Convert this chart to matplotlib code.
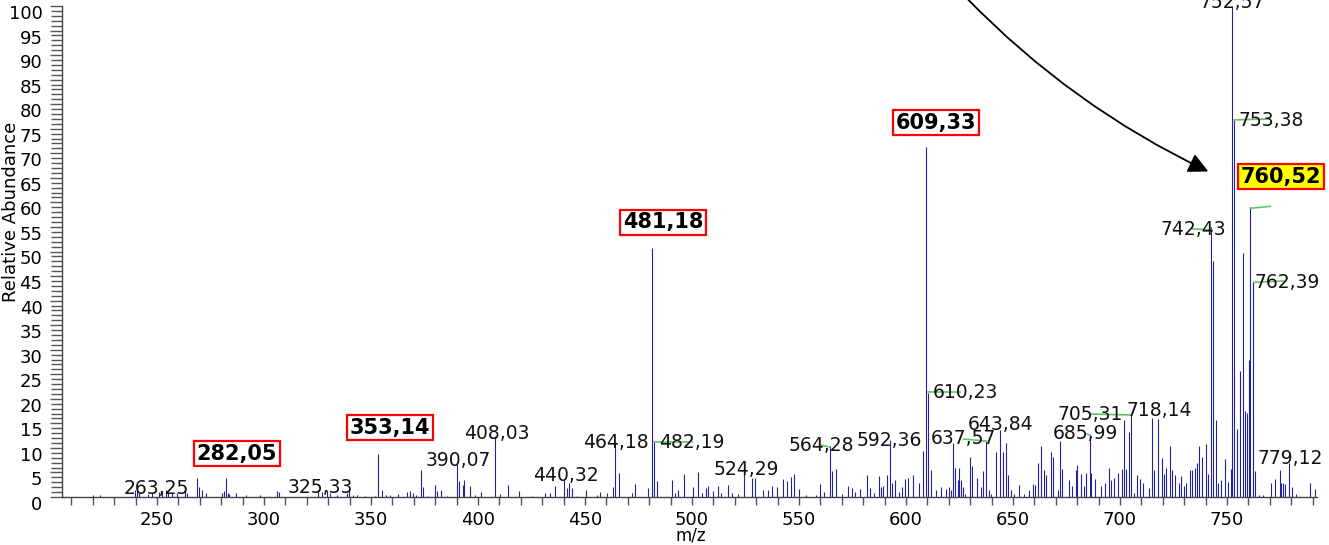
import matplotlib
matplotlib.use('Agg')
import matplotlib.pyplot as plt
from matplotlib.ticker import MultipleLocator
from matplotlib import transforms

# peak list (m/z, relative abundance)
mz = [220.1, 223.4, 239.7, 240.7, 241.6, 245.8, 247.7, 250.8, 252.3, 254.2,
      255.1, 257.0, 259.3, 263.25, 264.2, 268.5, 269.8, 271.0, 272.9, 280.4,
      281.1, 282.05, 283.0, 283.6, 286.8, 291.4, 298.1, 306.1, 306.8, 325.33,
      327.0, 329.4, 330.8, 333.9, 338.6, 339.6, 341.6, 343.5, 347.2, 351.9,
      353.14, 355.0, 357.0, 358.9, 362.8, 366.7, 368.2, 369.6, 371.0, 373.4,
      374.5, 376.0, 379.9, 380.7, 382.6, 385.4, 390.07, 391.3, 393.1, 393.6,
      396.3, 398.6, 401.4, 408.03, 410.3, 413.9, 419.3, 425.1, 431.3, 433.6,
      436.0, 440.32, 441.4, 442.5, 443.8, 446.4, 450.3, 455.5, 457.0, 460.1,
      463.3, 464.18, 466.0, 471.8, 473.4, 479.6, 481.18, 482.19, 483.5, 490.5,
      492.1, 493.6, 496.3, 500.3, 502.7, 504.5, 506.4, 507.6, 510.0, 512.3,
      513.5, 517.0, 518.8, 521.6, 524.29, 527.9, 529.4, 533.3, 535.7, 537.2,
      539.9, 542.7, 544.5, 546.3, 547.8, 550.1, 553.5, 558.2, 560.0, 561.5,
      564.28, 565.4, 567.4, 570.0, 572.9, 574.8, 576.3, 578.6, 581.8, 583.3,
      584.9, 587.5, 588.5, 589.2, 591.2, 592.36, 593.5, 594.7, 596.6, 598.0,
      599.7, 600.9, 603.1, 606.2, 607.9, 609.33, 610.23, 611.5, 614.0, 616.3,
      618.6, 620.2, 621.0, 621.8, 622.9, 624.1, 624.9, 625.7, 626.5, 627.7,
      630.0, 630.8, 633.1, 635.0, 636.2, 637.57, 638.6, 639.9, 642.3, 643.84,
      645.4, 646.7, 647.8, 649.0, 650.6, 652.9, 655.3, 657.3, 659.6, 660.4,
      661.9, 663.0, 664.5, 665.3, 667.7, 668.5, 670.9, 672.0, 673.1, 676.2,
      677.8, 679.3, 680.1, 681.6, 683.2, 684.0, 685.99, 686.7, 688.2, 691.0,
      692.9, 694.9, 695.7, 697.4, 699.3, 700.9, 702.1, 702.8, 704.1, 705.31,
      706.4, 708.0, 709.6, 710.8, 713.4, 715.2, 716.0, 717.9, 719.7, 720.5,
      721.7, 723.2, 724.3, 725.9, 727.6, 728.7, 729.8, 731.0, 732.6, 733.8,
      734.9, 736.0, 737.0, 738.5, 740.4, 741.2, 742.43, 743.4, 744.8, 745.9,
      747.4, 748.9, 750.5, 752.0, 752.57, 753.38, 754.6, 755.9, 757.5, 758.3,
      759.4, 760.1, 760.9, 762.39, 763.3, 764.8, 766.9, 770.4, 772.3, 774.6,
      775.5, 776.2, 777.0, 779.12, 780.6, 782.2, 788.8, 791.1]
abundance = [0.5, 0.5, 1.5, 1.2, 0.8, 0.6, 0.8, 1.1, 1.3, 1.5,
             1.1, 0.9, 0.8, 1.8, 0.8, 3.8, 2.1, 1.5, 0.8, 0.9,
             1.3, 3.8, 0.8, 0.6, 0.9, 0.5, 0.4, 1.3, 1.0, 1.5,
             1.0, 1.5, 0.8, 0.5, 0.8, 1.5, 0.5, 0.5, 0.3, 0.3,
             8.8, 1.5, 0.5, 0.5, 0.7, 1.0, 1.2, 0.8, 0.5, 5.4,
             2.0, 0.3, 2.5, 1.2, 1.4, 0.3, 6.8, 3.3, 2.5, 3.5,
             2.3, 0.5, 1.0, 12.4, 0.6, 2.5, 1.2, 0.3, 0.8, 0.9,
             2.2, 3.5, 1.8, 2.9, 1.8, 0.2, 1.5, 0.5, 1.0, 0.8,
             2.0, 11.0, 4.9, 0.8, 2.6, 1.8, 50.7, 11.1, 3.2, 3.5,
             0.8, 1.5, 4.7, 2.0, 5.0, 0.8, 1.8, 2.3, 1.2, 2.2,
             0.9, 2.5, 0.9, 0.7, 5.4, 3.9, 3.9, 1.5, 1.5, 2.3,
             2.0, 3.7, 3.2, 4.1, 4.7, 1.6, 0.4, 0.4, 2.6, 1.1,
             10.3, 5.2, 5.8, 0.7, 2.2, 1.8, 1.1, 1.6, 4.5, 1.8,
             0.9, 4.3, 2.0, 2.2, 4.5, 11.7, 2.8, 3.5, 1.1, 2.0,
             3.6, 3.8, 4.5, 2.8, 9.4, 71.2, 21.2, 5.4, 1.4, 2.0,
             1.7, 2.1, 1.4, 10.9, 6.0, 3.5, 6.0, 3.5, 2.1, 0.7,
             8.1, 6.3, 3.8, 2.1, 5.2, 11.5, 1.4, 0.7, 9.1, 13.6,
             9.2, 10.9, 4.5, 1.4, 0.7, 2.4, 0.7, 1.4, 2.6, 2.4,
             7.0, 10.4, 5.5, 4.5, 9.1, 8.2, 1.4, 11.4, 5.8, 3.5,
             2.2, 5.6, 6.5, 4.6, 2.2, 4.8, 12.6, 4.8, 3.6, 2.2,
             2.9, 6.0, 3.5, 3.8, 4.8, 5.8, 15.6, 5.8, 13.2, 16.7,
             0.9, 4.5, 3.6, 2.8, 1.8, 16.0, 5.6, 15.8, 7.9, 4.6,
             6.0, 10.4, 5.5, 4.5, 2.8, 4.3, 2.3, 2.9, 5.4, 5.5,
             6.0, 7.0, 10.4, 8.1, 10.8, 4.7, 55.0, 48.0, 15.6, 2.8,
             3.5, 7.7, 3.1, 5.8, 100.0, 76.8, 13.8, 25.7, 49.7, 17.6,
             17.1, 27.9, 59.0, 43.8, 5.3, 0.5, 0.4, 2.9, 3.7, 5.4,
             2.8, 2.9, 2.6, 6.9, 2.0, 0.7, 2.8, 1.6]

# plain peak labels: text and where it sits
label_text = ['752,57', '753,38', '742,43', '762,39', '610,23', '643,84',
              '637,57', '705,31', '718,14', '685,99', '779,12', '592,36',
              '564,28', '524,29', '482,19', '464,18', '440,32', '408,03',
              '390,07', '325,33', '263,25']
label_x = [752.3, 770.8, 734.3, 778.0, 627.8, 644.2, 627.1, 686.0, 718.2,
           684.0, 779.7, 592.1, 560.3, 525.2, 500.0, 464.5, 441.1, 408.9,
           390.7, 326.2, 249.5]
label_y = [100.7, 76.7, 54.4, 43.7, 21.3, 14.8, 12.0, 16.9, 17.6, 13.0,
           7.9, 11.6, 10.4, 5.5, 11.0, 11.0, 4.3, 13.0, 7.5, 2.0, 1.8]

# boxed (highlighted) labels
box_text = ['282,05', '353,14', '481,18', '609,33', '760,52']
box_x = [287.4, 358.9, 486.4, 614.0, 775.2]
box_y = [8.8, 14.1, 56.0, 76.2, 65.2]
box_fill = ['white', 'white', 'white', 'white', '#ffff00']

# green leader lines from peak top to moved label
leader_x = [(753.38, 770.0), (760.9, 770.3), (762.39, 776.3), (734.1, 742.43),
            (610.23, 625.2), (627.0, 637.57), (684.3, 685.99), (686.0, 705.31),
            (560.0, 564.28), (482.19, 499.9)]
leader_y = [(76.8, 77.0), (58.8, 59.2), (43.7, 44.0), (54.6, 54.4),
            (21.3, 21.3), (11.8, 11.4), (12.9, 12.6), (16.9, 16.7),
            (10.6, 10.2), (11.1, 11.1)]

fig = plt.figure(figsize=(13.29, 5.45), dpi=100)
ax = fig.add_axes([62 / 1329, 48 / 545, 1255 / 1329, 491 / 545])

ax.vlines(mz, 0, abundance, color='#23239c', lw=0.8)

for (x1, x2), (y1, y2) in zip(leader_x, leader_y):
    ax.plot([x1, x2], [y1, y2], color='#66c266', lw=1.2)

for s, x, y in zip(label_text, label_x, label_y):
    ax.text(x, y, s, ha='center', va='center', fontsize=13.5, color='#111111')

for s, x, y, fc in zip(box_text, box_x, box_y, box_fill):
    ax.text(x, y, s, ha='center', va='center', fontsize=15, fontweight='bold',
            color='black',
            bbox=dict(boxstyle='square,pad=0.12', fc=fc, ec='#ff0000', lw=1.6))

ax.annotate('', xy=(741.3, 66.3), xytext=(628.4, 101.6),
            arrowprops=dict(arrowstyle='-|>,head_length=1.0,head_width=0.5',
                            connectionstyle='arc3,rad=0.09', color='black',
                            lw=1.3, shrinkA=0, shrinkB=0, mutation_scale=12),
            annotation_clip=False)

ax.set_xlim(205.6, 792.1)
ax.set_ylim(0, 100)
ax.spines['top'].set_visible(False)
ax.spines['right'].set_visible(False)
for side in ['left', 'bottom']:
    ax.spines[side].set_color('#444444')
    ax.spines[side].set_linewidth(1.0)

ax.xaxis.set_major_locator(MultipleLocator(50))
ax.xaxis.set_minor_locator(MultipleLocator(10))
ax.yaxis.set_major_locator(MultipleLocator(5))
ax.yaxis.set_minor_locator(MultipleLocator(1))
ax.tick_params(axis='x', which='both', direction='out', length=6, width=1,
               color='#555555', labelsize=13, pad=4)
ax.tick_params(axis='y', which='major', direction='out', length=9, width=1,
               color='#555555', labelsize=13, pad=5)
ax.tick_params(axis='y', which='minor', direction='out', length=8, width=1,
               color='#555555')

# y labels sit a little below their ticks in the original
shift = transforms.ScaledTranslation(0, -6 / 100, fig.dpi_scale_trans)
for lab in ax.get_yticklabels():
    lab.set_transform(lab.get_transform() + shift)

fig.text(691 / 1329, 1 - 535 / 545, 'm/z', ha='center', va='center', fontsize=12)
fig.text(11 / 1329, 1 - 212 / 545, 'Relative Abundance', ha='center', va='center',
         rotation=90, fontsize=13)

fig.savefig('out.png', dpi=100)
